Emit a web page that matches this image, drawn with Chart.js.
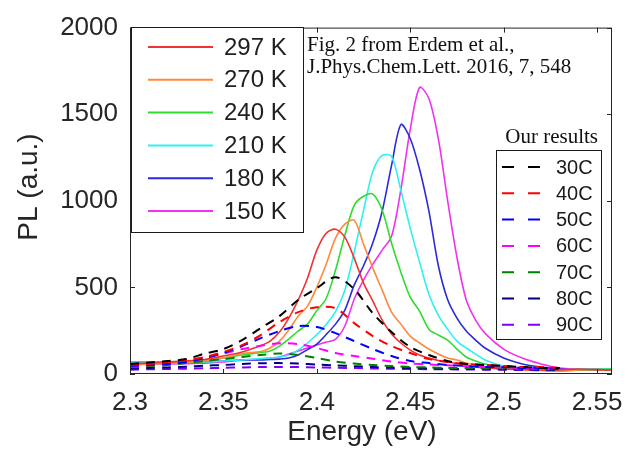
<!DOCTYPE html>
<html>
<head>
<meta charset="utf-8">
<script src="https://cdn.jsdelivr.net/npm/chart.js@4.4.0/dist/chart.umd.min.js"></script>
<style>
  html, body { margin: 0; padding: 0; background: #fff; }
  #wrap { width: 639px; height: 460px; }
</style>
</head>
<body>
<div id="wrap"><canvas id="chart"></canvas></div>
<script>
//Erdem et al. PL spectra (solid lines), energy in eV
const energyRef = [2.30, 2.32, 2.34, 2.35, 2.36, 2.37, 2.375, 2.38, 2.385, 2.39, 2.395, 2.40, 2.405, 2.41, 2.415, 2.42, 2.425, 2.43, 2.435, 2.44, 2.445, 2.45, 2.455, 2.46, 2.465, 2.47, 2.475, 2.48, 2.485, 2.49, 2.50, 2.51, 2.52, 2.53, 2.54, 2.558];
const pl297 = [58, 69, 84, 104, 127, 164, 190, 242, 323, 427, 553, 715, 813, 836, 790, 669, 525, 421, 311, 231, 179, 138, 110, 92, 78, 69, 61, 52, 40, 35, 29, 26, 23, 23, 29, 23];
const pl270 = [52, 61, 75, 92, 118, 130, 150, 190, 254, 334, 392, 501, 634, 784, 865, 888, 750, 611, 484, 357, 288, 219, 179, 144, 115, 92, 81, 63, 52, 40, 29, 23, 20, 17, 23, 23];
const pl240 = [58, 63, 72, 92, 110, 124, 133, 161, 202, 248, 288, 366, 436, 599, 801, 974, 1026, 1038, 945, 755, 588, 444, 363, 259, 225, 196, 144, 98, 75, 58, 35, 29, 23, 17, 23, 29];
const pl210 = [69, 69, 69, 75, 81, 89, 92, 98, 110, 138, 179, 228, 286, 360, 484, 703, 945, 1170, 1262, 1256, 1060, 842, 646, 461, 340, 259, 190, 150, 115, 81, 46, 29, 26, 23, 29, 29];
const pl180 = [69, 69, 72, 75, 81, 81, 84, 86, 92, 110, 141, 173, 228, 288, 369, 513, 625, 758, 940, 1205, 1440, 1360, 1182, 940, 628, 430, 323, 248, 196, 150, 92, 58, 40, 29, 23, 23];
const pl150 = [58, 58, 63, 69, 81, 86, 92, 98, 115, 133, 150, 167, 184, 200, 277, 432, 542, 634, 715, 795, 1066, 1412, 1654, 1591, 1360, 1003, 674, 427, 311, 236, 144, 92, 58, 35, 29, 23];

const refLabels = ["297 K", "270 K", "240 K", "210 K", "180 K", "150 K"];
const refColors = ["#f03232", "#ff8a3d", "#2fdc2f", "#2ef0f0", "#2a2ade", "#f032f0"];
const refSeries = [pl297, pl270, pl240, pl210, pl180, pl150];

//Our results (dashed lines)
const energyOurs = [2.30, 2.31, 2.32, 2.33, 2.34, 2.35, 2.36, 2.37, 2.38, 2.39, 2.40, 2.41, 2.42, 2.43, 2.44, 2.45, 2.46, 2.47, 2.48, 2.49, 2.50, 2.51, 2.52, 2.53];
const pl30C = [58, 66, 75, 86, 118, 144, 196, 265, 334, 427, 496, 559, 490, 350, 242, 156, 110, 75, 58, 52, 46, 40, 35, 35];
const pl40C = [52, 58, 69, 81, 98, 127, 167, 225, 300, 357, 386, 380, 294, 219, 161, 121, 86, 69, 58, 52, 46, 40, 40, 35];
const pl50C = [46, 52, 58, 69, 92, 121, 161, 207, 248, 277, 271, 236, 190, 144, 104, 75, 63, 52, 46, 40, 40, 35, 35, 29];
const pl60C = [44, 50, 58, 72, 92, 118, 144, 163, 177, 173, 150, 121, 104, 88, 72, 61, 55, 50, 45, 40, 38, 35, 33, 29];
const pl70C = [40, 46, 52, 63, 75, 86, 98, 110, 118, 110, 92, 72, 60, 52, 46, 40, 38, 35, 35, 32, 32, 29, 29, 26];
const pl80C = [32, 35, 38, 42, 48, 52, 58, 62, 63, 60, 55, 50, 45, 40, 37, 35, 32, 30, 29, 28, 27, 26, 25, 24];
const pl90C = [25, 27, 29, 31, 33, 36, 38, 40, 41, 40, 38, 36, 34, 32, 30, 29, 28, 27, 26, 25, 24, 23, 22, 21];

const oursLabels = ["30C", "40C", "50C", "60C", "70C", "80C", "90C"];
const oursColors = ["#000000", "#ff0000", "#0000ff", "#ff00ff", "#008000", "#000080", "#8000ff"];
const oursSeries = [pl30C, pl40C, pl50C, pl60C, pl70C, pl80C, pl90C];

//Axis ticks
const energyTicks = [2.3, 2.35, 2.4, 2.45, 2.5, 2.55];
const plTicks = [0, 500, 1000, 1500, 2000];

const toPoints = (xs, ys) => xs.map((x, i) => ({ x, y: ys[i] }));

const datasets = [];
oursSeries.forEach((vals, i) => {
  datasets.push({
    label: oursLabels[i],
    data: toPoints(energyOurs, vals),
    borderColor: oursColors[i],
    borderWidth: 2,
    borderDash: [9, 7],
    tension: 0.3,
    pointRadius: 0,
    fill: false,
  });
});
refSeries.forEach((vals, i) => {
  datasets.push({
    label: refLabels[i],
    data: toPoints(energyRef, vals),
    borderColor: refColors[i],
    borderWidth: 1.6,
    tension: 0.3,
    pointRadius: 0,
    fill: false,
  });
});

const AXIS = "#262626";
const SANS = "'Liberation Sans', Arial, sans-serif";
const SERIF = "'Liberation Serif', 'Times New Roman', serif";

//Frame, inward ticks, axis titles and both legends
const decorPlugin = {
  id: "decor",
  afterDraw(chart) {
    const { ctx, chartArea: a, scales: { x, y } } = chart;
    ctx.save();

    //box and ticks
    ctx.strokeStyle = AXIS;
    ctx.lineWidth = 1;
    ctx.strokeRect(a.left + 0.5, a.top + 0.5, a.right - a.left - 1, a.bottom - a.top - 1);
    ctx.beginPath();
    x.ticks.forEach(t => {
      const px = Math.round(x.getPixelForValue(t.value)) + 0.5;
      ctx.moveTo(px, a.bottom); ctx.lineTo(px, a.bottom - 5);
      ctx.moveTo(px, a.top); ctx.lineTo(px, a.top + 5);
    });
    y.ticks.forEach(t => {
      const py = Math.round(y.getPixelForValue(t.value)) + 0.5;
      ctx.moveTo(a.left, py); ctx.lineTo(a.left + 5, py);
      ctx.moveTo(a.right, py); ctx.lineTo(a.right - 5, py);
    });
    ctx.stroke();

    //axis titles
    ctx.fillStyle = AXIS;
    ctx.font = "28px " + SANS;
    ctx.textAlign = "center";
    ctx.textBaseline = "middle";
    ctx.fillText("Energy (eV)", 362, 432);
    ctx.save();
    ctx.translate(29, 187);
    ctx.rotate(-Math.PI / 2);
    ctx.fillText("PL (a.u.)", 0, 0);
    ctx.restore();

    //legend of reference curves
    ctx.fillStyle = "#fff";
    ctx.fillRect(131.5, 27.5, 172, 205);
    ctx.strokeStyle = "#1a1a1a";
    ctx.strokeRect(131.5, 27.5, 172, 205);
    ctx.font = "24px " + SANS;
    ctx.textAlign = "left";
    refLabels.forEach((lab, i) => {
      const yy = 47 + i * 32.8;
      ctx.strokeStyle = refColors[i];
      ctx.lineWidth = 2;
      ctx.beginPath();
      ctx.moveTo(148, yy); ctx.lineTo(213, yy);
      ctx.stroke();
      ctx.fillStyle = "#1f1f1f";
      ctx.fillText(lab, 224, yy + 1);
    });

    //citation text
    ctx.fillStyle = "#111";
    ctx.font = "21px " + SERIF;
    ctx.textBaseline = "alphabetic";
    ctx.fillText("Fig. 2 from Erdem et al.,", 307, 51);
    ctx.fillText("J.Phys.Chem.Lett. 2016, 7, 548", 307, 73);

    //legend of our results
    ctx.textAlign = "right";
    ctx.fillText("Our results", 598, 143);
    ctx.fillStyle = "#fff";
    ctx.fillRect(496.5, 150.5, 105, 189);
    ctx.strokeStyle = "#1a1a1a";
    ctx.lineWidth = 1;
    ctx.strokeRect(496.5, 150.5, 105, 189);
    ctx.font = "20px " + SANS;
    ctx.textAlign = "left";
    ctx.textBaseline = "middle";
    oursLabels.forEach((lab, i) => {
      const yy = 167 + i * 26.3;
      ctx.strokeStyle = oursColors[i];
      ctx.lineWidth = 2;
      ctx.beginPath();
      ctx.moveTo(502, yy); ctx.lineTo(514, yy);
      ctx.moveTo(528, yy); ctx.lineTo(540, yy);
      ctx.stroke();
      ctx.fillStyle = "#1a1a1a";
      ctx.fillText(lab, 556, yy + 1);
    });

    ctx.restore();
  },
};

new Chart(document.getElementById("chart"), {
  type: "line",
  data: { datasets },
  options: {
    responsive: true,
    maintainAspectRatio: false,
    animation: false,
    layout: { padding: { top: 27, right: 27, left: 0, bottom: 0 } },
    plugins: { legend: { display: false }, tooltip: { enabled: false } },
    scales: {
      x: {
        type: "linear",
        min: 2.3,
        max: 2.558,
        grid: { display: false, drawTicks: false },
        border: { display: false },
        ticks: {
          padding: 13,
          color: AXIS,
          font: { family: SANS, size: 26 },
          maxRotation: 0,
          autoSkip: false,
          callback: v => String(+v.toFixed(2)),
        },
        afterBuildTicks: scale => {
          scale.ticks = energyTicks.map(value => ({ value }));
        },
        afterFit: scale => { scale.height = 86; },
      },
      y: {
        min: 0,
        max: 2000,
        grid: { display: false, drawTicks: false },
        border: { display: false },
        ticks: {
          padding: 12,
          color: AXIS,
          font: { family: SANS, size: 26 },
          callback: v => String(v),
        },
        afterBuildTicks: scale => {
          scale.ticks = plTicks.map(value => ({ value }));
        },
        afterFit: scale => { scale.width = 130; },
      },
    },
  },
  plugins: [decorPlugin],
});
</script>
</body>
</html>
